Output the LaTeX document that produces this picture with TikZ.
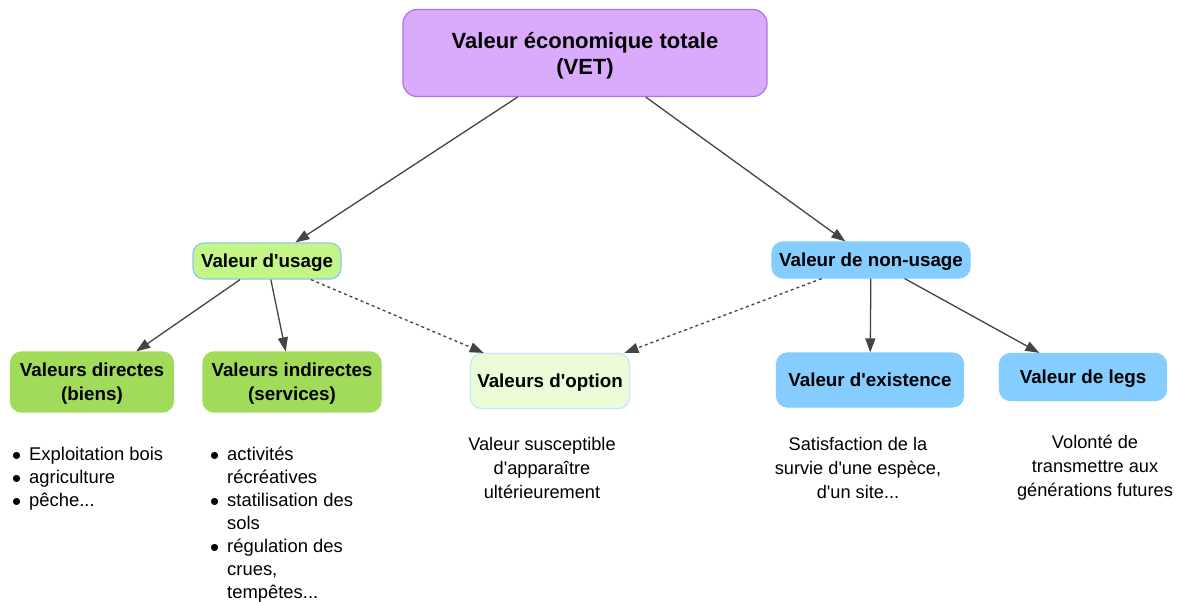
\documentclass[tikz,border=0pt]{standalone}
\usepackage{fontspec}
\setmainfont{Liberation Sans}[Ligatures=TeXOff]
\usepackage{xcolor}
\usetikzlibrary{shapes,arrows.meta}
\definecolor{vetfill}{RGB}{218,170,252}
\definecolor{vetline}{RGB}{180,110,230}
\definecolor{usefill}{RGB}{195,245,135}
\definecolor{useline}{RGB}{140,200,240}
\definecolor{dirfill}{RGB}{160,220,90}
\definecolor{optfill}{RGB}{236,252,216}
\definecolor{optline}{RGB}{200,230,250}
\definecolor{nonfill}{RGB}{133,204,255}
\definecolor{arrline}{RGB}{68,68,68}
\newcommand{\blt}{\raisebox{-4.5pt}[0pt][0pt]{\scalebox{1.4}{\textbullet}}}
\tikzset{box/.style={rectangle,rounded corners=11pt,inner sep=0pt,align=center,
    font=\fontsize{18.8}{24}\selectfont\bfseries,line width=1.2pt,text depth=-1.5pt},
  usebox/.style={box,fill=dirfill,draw=dirfill},
  nonbox/.style={box,fill=nonfill,draw=nonfill},
  desc/.style={align=center,font=\fontsize{18.2}{24}\selectfont},
  blist/.style={anchor=north west,inner sep=0pt,font=\fontsize{18.4}{23}\selectfont},
  link/.style={->,draw=arrline,line width=1.3pt},
  maybe/.style={link,dash pattern=on 3pt off 3pt}}

\begin{document}
\begin{tikzpicture}[x=1pt,y=-1pt,>={Triangle[length=14pt,width=10pt]}]
        \useasboundingbox[fill=white] (0,0) rectangle (1179,602);
        \node[box,fill=vetfill,draw=vetline,minimum width=364,minimum height=87,rounded corners=14pt,
            font=\fontsize{22}{26}\selectfont\bfseries,text depth=-3pt] (vet) at (585,53) {Valeur économique totale\\(VET)};
        \node[box,fill=usefill,draw=useline,minimum width=148,minimum height=36] (usage) at (267,261) {Valeur d'usage};
        \node[nonbox,minimum width=198,minimum height=36] (nonusage) at (871,260) {Valeur de non-usage};
        \node[usebox,minimum width=163,minimum height=60] (direct) at (92,382) {Valeurs directes\\(biens)};
        \node[usebox,minimum width=178,minimum height=60] (indirect) at (292,382) {Valeurs indirectes\\(services)};
        \node[box,fill=optfill,draw=optline,minimum width=159,minimum height=55] (option) at (550,381) {Valeurs d'option};
        \node[nonbox,minimum width=187,minimum height=54] (exist) at (870,380) {Valeur d'existence};
        \node[nonbox,minimum width=167,minimum height=47] (legs) at (1083,377) {Valeur de legs};

        \draw [link] (vet) -- (usage);
        \draw [link] (vet) -- (nonusage);
        \draw [link] (usage) -- (direct);
        \draw [link] (usage) -- (indirect);
        \draw [maybe] (usage) -- (option);
        \draw [maybe] (nonusage) -- (option);
        \draw [link] (nonusage) -- (exist);
        \draw [link] (nonusage) -- (legs);

        \node[blist] (directlist) at (12,444) {\begin{tabular}{@{}l@{\hspace{8pt}}l@{}}
            \blt & Exploitation bois\\ \blt & agriculture\\ \blt & pêche...\end{tabular}};
        \node[blist] (indirectlist) at (210,444) {\begin{tabular}{@{}l@{\hspace{8pt}}l@{}}
            \blt & activités\\ & récréatives\\ \blt & statilisation des\\ & sols\\
            \blt & régulation des\\ & crues,\\ & tempêtes...\end{tabular}};
        \node[desc] (optiondesc) at (542,468) {Valeur susceptible\\d'apparaître\\ultérieurement};
        \node[desc] (existdesc) at (858,468) {Satisfaction de la\\survie d'une espèce,\\d'un site...};
        \node[desc] (legsdesc) at (1095,468) {Volonté de\\transmettre aux\\générations futures};
\end{tikzpicture}
\end{document}
